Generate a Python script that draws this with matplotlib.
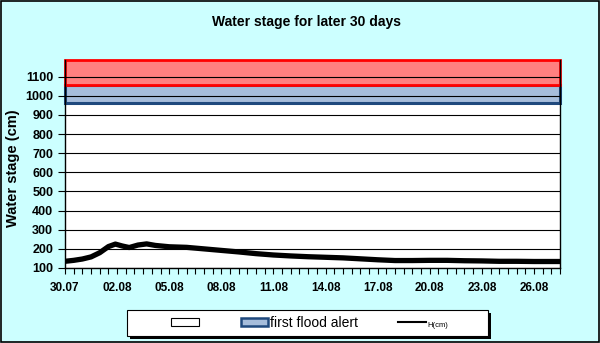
import matplotlib
matplotlib.use('Agg')
import matplotlib.pyplot as plt
from matplotlib.patches import Rectangle, Patch
from matplotlib.lines import Line2D
import numpy as np

plt.rcParams['font.family'] = ['Liberation Sans', 'DejaVu Sans']

# days after 30.07 and water stage in cm
days = [0, 0.5, 1, 1.5, 2, 2.5, 2.9, 3.3, 3.7, 4.2, 4.7, 5.2, 6, 7, 8, 9, 10,
        11, 12, 13, 14, 15, 16, 17, 18, 19, 20, 21, 22, 23, 24, 25, 26, 27,
        28, 28.5]
stage = [135, 140, 147, 158, 180, 212, 225, 215, 207, 220, 226, 218, 211,
         208, 200, 192, 184, 175, 168, 163, 159, 156, 153, 148, 143, 139,
         139, 140, 140, 138, 137, 135, 135, 134, 134, 134]

tick_days = [0, 3, 6, 9, 12, 15, 18, 21, 24, 27]
tick_labels = ['30.07', '02.08', '05.08', '08.08', '11.08', '14.08',
               '17.08', '20.08', '23.08', '26.08']

alert_low, alert_high = 960, 1055     # first flood alert band
danger_low, danger_high = 1055, 1190  # upper band
x_end = 28.5

bg = '#CCFFFF'
W, H = 600, 343
fig = plt.figure(figsize=(6, 3.43), dpi=100, facecolor=bg)
ax = fig.add_axes([65/W, 1 - 268/H, 495/W, 208.5/H])
ax.set_facecolor('white')

ax.set_xlim(0, x_end)
ax.set_ylim(100, danger_high)

# bands
ax.add_patch(Rectangle((0, alert_low), x_end, alert_high - alert_low,
                       facecolor='#A6BDDB', edgecolor='#1F497D', lw=2.2,
                       zorder=0.5, clip_on=False))
ax.add_patch(Rectangle((0, danger_low), x_end, danger_high - danger_low,
                       facecolor='#FF8080', edgecolor='#FF0000', lw=2,
                       zorder=0.6, clip_on=False))

ax.plot(days, stage, color='black', lw=3.8, zorder=3, solid_capstyle='butt',
        solid_joinstyle='round')

ax.set_yticks(np.arange(100, 1101, 100))
ax.yaxis.grid(True, color='black', lw=0.8)
ax.set_axisbelow(False)
ax.set_xticks(tick_days)
ax.set_xticklabels(tick_labels)
ax.set_xticks(np.arange(0, x_end + 0.01, 0.5), minor=True)
ax.tick_params(axis='x', which='both', direction='out', length=4, width=0.8,
               labelsize=8.5, pad=6)
ax.tick_params(axis='y', direction='out', length=5, width=0.8, labelsize=9)
for lab in ax.get_xticklabels() + ax.get_yticklabels():
    lab.set_fontweight('bold')

ax.spines['top'].set_visible(False)
for s in ['left', 'right', 'bottom']:
    ax.spines[s].set_linewidth(1)

ax.set_ylabel('Water stage (cm)', fontsize=10.5, fontweight='bold')
ax.yaxis.set_label_coords((20 - 65)/495, 0.48)
fig.text(307/W, 1 - 22/H, 'Water stage for later 30 days', ha='center',
         va='center', fontsize=10, fontweight='bold')

# legend box with shadow
bx, by, bw, bh = 127, 310, 361, 25.5
fig.add_artist(Rectangle(((bx + 3)/W, 1 - (by + bh + 3)/H), bw/W, bh/H,
                         transform=fig.transFigure, facecolor='black', lw=0))
fig.add_artist(Rectangle((bx/W, 1 - (by + bh)/H), bw/W, bh/H,
                         transform=fig.transFigure, facecolor='white',
                         edgecolor='black', lw=0.8))

handles = [Patch(facecolor='white', edgecolor='black', lw=0.8),
           Patch(facecolor='#A6BDDB', edgecolor='#1F497D', lw=1.8),
           Line2D([0], [0], color='black', lw=1.5)]
labels = ['', 'first flood alert', 'H(cm)']
leg = fig.legend(handles, labels, ncol=3, loc='center',
                 bbox_to_anchor=((bx + bw/2 + 2)/W, 1 - (by + bh/2)/H),
                 frameon=False, prop={'size': 10},
                 handlelength=2.0, handleheight=0.5, borderaxespad=0,
                 handletextpad=0.1, columnspacing=2.9)
leg.get_texts()[2].set_fontsize(5.5)

# outer border
fig.add_artist(Rectangle((0.001, 0.002), 0.997, 0.995, transform=fig.transFigure,
                         fill=False, edgecolor='black', lw=1.2))

fig.savefig('out.png', dpi=100, facecolor=bg)
